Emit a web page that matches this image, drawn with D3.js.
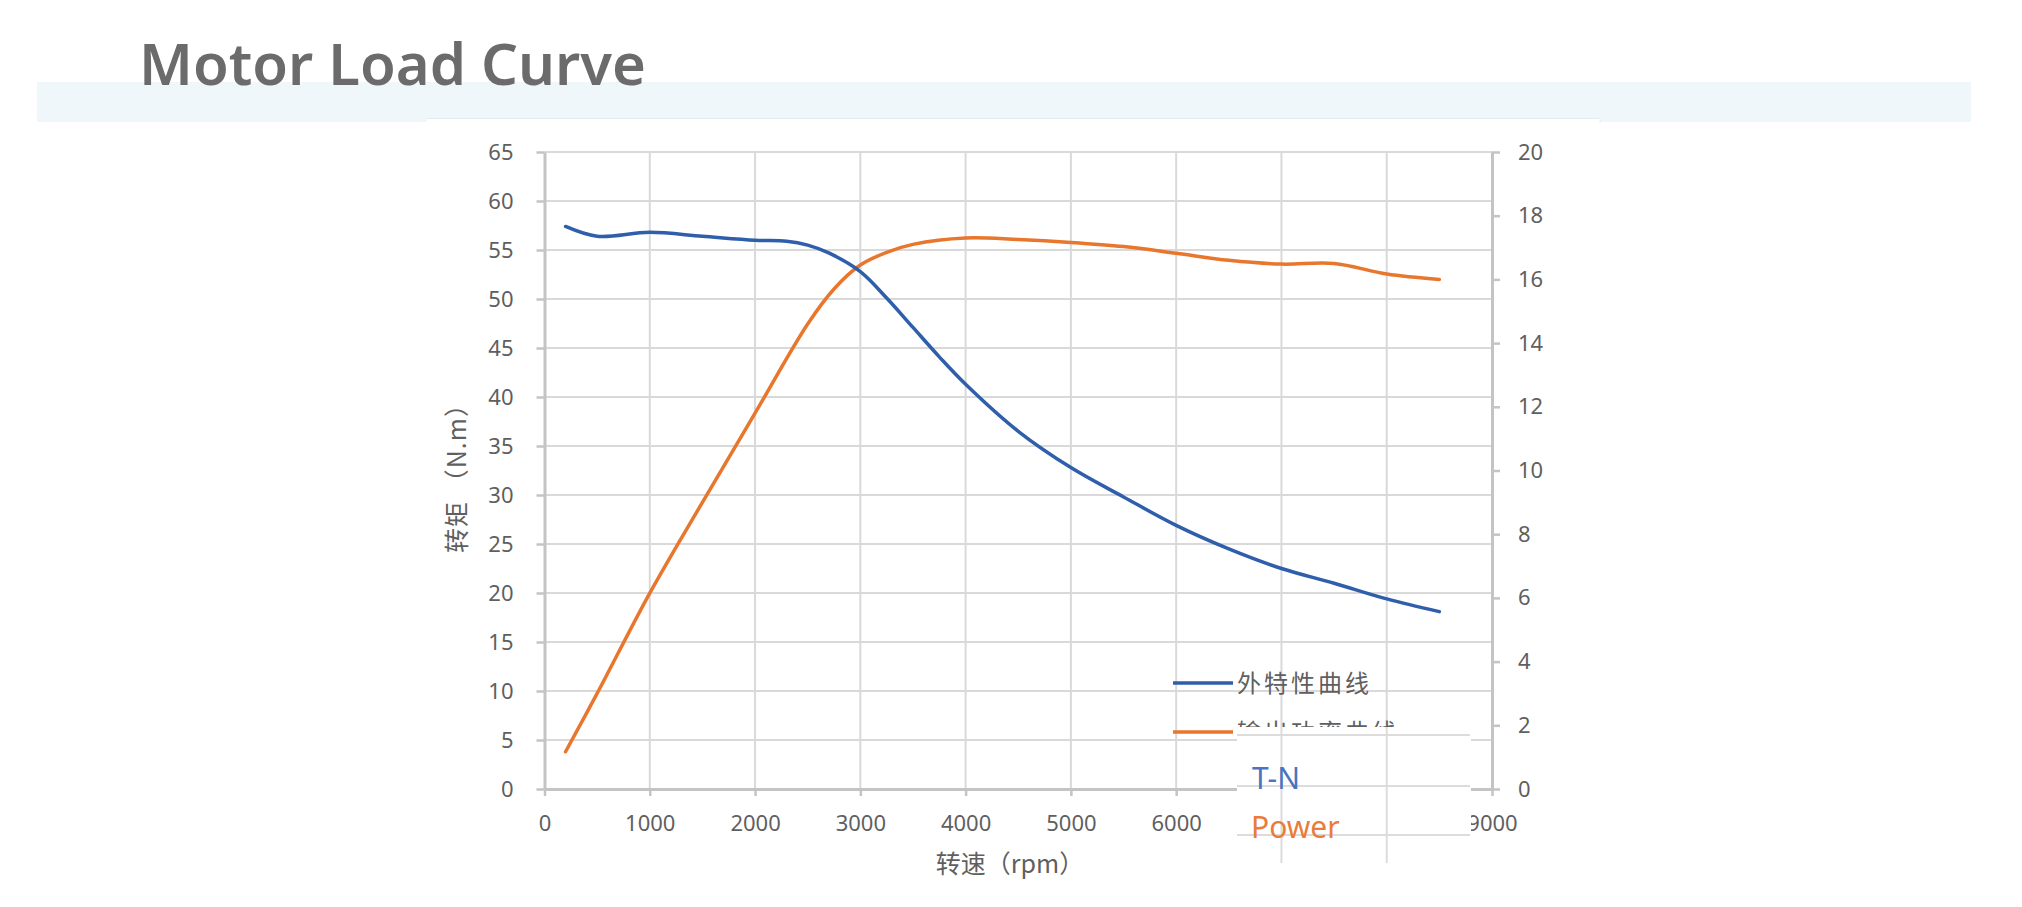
<!DOCTYPE html>
<html><head><meta charset="utf-8">
<script src="https://cdn.jsdelivr.net/npm/d3@7"></script>
<style>html,body{margin:0;padding:0;background:#fff;overflow:hidden}</style>
</head><body><svg id="c" width="2022" height="907"></svg>
<script>
// ---- data ----
const chartTitle = "Motor Load Curve";
const xTicks = [0,1000,2000,3000,4000,5000,6000,7000,8000,9000];
const yLeftTicks = [0,5,10,15,20,25,30,35,40,45,50,55,60,65];
const yRightTicks = [0,2,4,6,8,10,12,14,16,18,20];
const speedTN = [200,500,1000,1500,2000,2300,2500,2700,3000,3250,3500,3750,4000,4500,5000,5500,6000,6500,7000,7500,8000,8500];
const torque  = [57.4,56.4,56.8,56.4,56.0,55.9,55.5,54.7,52.8,50.1,47.1,44.1,41.3,36.5,32.8,29.8,26.9,24.5,22.5,21.0,19.4,18.1];
const speedP  = [200,500,1000,1500,2000,2500,2750,3000,3250,3500,4000,4500,5000,5500,6000,6500,7000,7500,8000,8500];
const power   = [1.17,3.0,6.15,9.0,11.8,14.6,15.7,16.45,16.85,17.1,17.3,17.25,17.16,17.03,16.82,16.6,16.48,16.5,16.17,16.0];
const legendLabels = ["外特性曲线","输出功率曲线"];
const seriesTags = ["T-N","Power"];
const hiddenXLabels = [7000,8000];
const xTitle = "转速（rpm）";
const yTitle = "转矩 （N.m）";

// ---- layout ----
const svg = d3.select("#c");
const L = 544.5, R = 1492, T = 152, B = 789;
const x = d3.scaleLinear().domain([0,9000]).range([L,R]);
const yL = d3.scaleLinear().domain([0,65]).range([B,T]);
const yR = d3.scaleLinear().domain([0,20]).range([B,T]);
const BLUE = "#2f5eab", ORANGE = "#e8762d";
const GRID = "#d9d9d9", AXIS = "#c4c4c4", TXT = "#5f5f5f";
const FONT = "'Noto Sans','Noto Sans CJK SC',sans-serif";

// header band
svg.append("rect").attr("x",37).attr("y",82).attr("width",1934).attr("height",40).attr("fill","#eff7fa");
svg.append("rect").attr("x",427).attr("y",118).attr("width",1173).attr("height",789).attr("fill","#fff");
svg.append("line").attr("x1",427).attr("x2",1600).attr("y1",118.5).attr("y2",118.5).attr("stroke","#e3edf1").attr("stroke-width",1);
svg.append("line").attr("x1",1600).attr("x2",1600).attr("y1",118).attr("y2",123).attr("stroke","#e3edf1").attr("stroke-width",1);

svg.append("text").attr("x",139).attr("y",85).text(chartTitle)
  .attr("font-family",FONT).attr("font-size",58).attr("font-weight",600).attr("fill","#6b6b6b");

// gridlines
const g = svg.append("g");
g.selectAll(".hg").data(yLeftTicks.filter(d=>d>0)).join("line")
  .attr("x1",L).attr("x2",R).attr("y1",d=>yL(d)).attr("y2",d=>yL(d))
  .attr("stroke",GRID).attr("stroke-width",2);
g.selectAll(".vg").data(xTicks.filter(d=>d>0 && d<9000)).join("line")
  .attr("x1",d=>x(d)).attr("x2",d=>x(d)).attr("y1",T).attr("y2",B)
  .attr("stroke",GRID).attr("stroke-width",2);

function styleAxis(sel){
  sel.selectAll("path").attr("stroke",AXIS).attr("stroke-width",3);
  sel.selectAll("line").attr("stroke",AXIS).attr("stroke-width",2.5);
  sel.selectAll("text").attr("fill",TXT).attr("font-family",FONT).attr("font-size",22);
}
svg.append("g").attr("transform",`translate(${L},0)`)
  .call(d3.axisLeft(yL).tickValues(yLeftTicks).tickSize(8).tickSizeOuter(0).tickPadding(23))
  .call(styleAxis);
svg.append("g").attr("transform",`translate(${R},0)`)
  .call(d3.axisRight(yR).tickValues(yRightTicks).tickSize(8).tickSizeOuter(0).tickPadding(18))
  .call(styleAxis);
svg.append("g").attr("transform",`translate(0,${B})`)
  .call(d3.axisBottom(x).tickValues(xTicks).tickSize(7).tickSizeOuter(0).tickPadding(19)
    .tickFormat(d=>hiddenXLabels.includes(d) ? "" : d3.format("d")(d)))
  .call(styleAxis);

// axis titles
svg.append("text").attr("transform","translate(466,472) rotate(-90)").attr("text-anchor","middle")
  .attr("font-family","'Noto Sans CJK SC',sans-serif").attr("font-size",25).attr("letter-spacing",1).attr("fill",TXT).text(yTitle);
svg.append("text").attr("x",1010).attr("y",873).attr("text-anchor","middle")
  .attr("font-family","'Noto Sans CJK SC',sans-serif").attr("font-size",25).attr("fill",TXT).text(xTitle);

// curves
const lineTN = d3.line().x((d,i)=>x(speedTN[i])).y(d=>yL(d)).curve(d3.curveCatmullRom.alpha(0.5));
const lineP = d3.line().x((d,i)=>x(speedP[i])).y(d=>yR(d)).curve(d3.curveCatmullRom.alpha(0.5));
svg.append("path").attr("d",lineP(power)).attr("fill","none").attr("stroke",ORANGE).attr("stroke-width",3.5).attr("stroke-linecap","round");
svg.append("path").attr("d",lineTN(torque)).attr("fill","none").attr("stroke",BLUE).attr("stroke-width",3.5).attr("stroke-linecap","round");

// legend
const legY = [683, 732];
const legC = [BLUE, ORANGE];
legendLabels.forEach((lab,i)=>{
  svg.append("line").attr("x1",1173).attr("x2",1233).attr("y1",legY[i]).attr("y2",legY[i]).attr("stroke",legC[i]).attr("stroke-width",3.5);
  svg.append("text").attr("x",1237).attr("y",legY[i]).attr("dy","0.36em").attr("font-family","'Noto Sans CJK SC',sans-serif")
    .attr("font-size",24).attr("letter-spacing",3).attr("fill",TXT).text(lab);
});

// pasted overlay patch
svg.append("rect").attr("x",1237).attr("y",727).attr("width",234).attr("height",140).attr("fill","#fff");
[735,786,835].forEach(yy=>svg.append("line").attr("x1",1237).attr("x2",1470).attr("y1",yy).attr("y2",yy).attr("stroke","#dcdcdc").attr("stroke-width",2));
[x(7000),x(8000)].forEach(xx=>svg.append("line").attr("x1",xx).attr("x2",xx).attr("y1",727).attr("y2",863).attr("stroke","#dcdcdc").attr("stroke-width",2));
svg.append("text").attr("x",1252).attr("y",789).attr("font-family",FONT).attr("font-size",30).attr("fill","#4a74bd").text(seriesTags[0]);
svg.append("text").attr("x",1251).attr("y",838).attr("font-family",FONT).attr("font-size",30).attr("fill","#ea7c3a").text(seriesTags[1]);
</script>
</body></html>
